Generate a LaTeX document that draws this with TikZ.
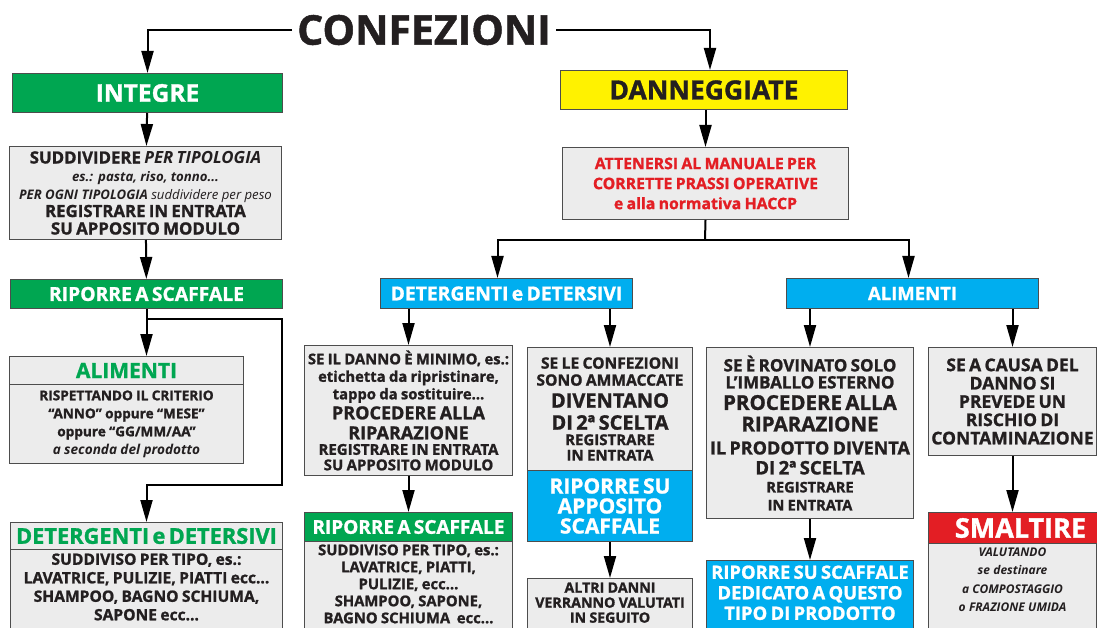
\documentclass[tikz,border=0pt]{standalone}
\usepackage{fontspec}
\setmainfont{Open Sans}[BoldFeatures={FakeBold=1.2}]
\usepackage{xcolor}
\usepackage{tikz}
\usetikzlibrary{arrows.meta, positioning}

\definecolor{verde}{HTML}{00A651}
\definecolor{azzurro}{HTML}{00AEEF}
\definecolor{giallo}{HTML}{FFF200}
\definecolor{rosso}{HTML}{E31E24}
\definecolor{grigio}{HTML}{ECECEC}
\definecolor{bordo}{HTML}{4D4D4D}
\definecolor{testo}{HTML}{231F20}

\newcommand{\fsL}{\fontsize{16.8}{17.5}\selectfont}
\newcommand{\fsH}{\fontsize{19.3}{20}\selectfont}

\tikzstyle{box}       = [rectangle, draw=bordo, line width=1pt, inner sep=0pt,
                         anchor=north west, align=center, text=testo, font=\bfseries]
\tikzstyle{graybox}   = [box, fill=grigio]
\tikzstyle{greenbox}  = [box, fill=verde, text=white]
\tikzstyle{bluebox}   = [box, fill=azzurro, text=white]
\tikzstyle{redbox}    = [box, fill=rosso, text=white]
\tikzstyle{yellowbox} = [box, fill=giallo]
\tikzstyle{arrow}     = [line width=2pt, -{Triangle[length=22pt, width=12pt]}]
\tikzstyle{line}      = [line width=2pt]
\tikzset{boxsize/.style 2 args={minimum width=#1, text width=#1, minimum height=#2}}

\begin{document}
\begin{tikzpicture}[x=1pt, y=-1pt]
    \useasboundingbox (0,0) rectangle (1097,628);
    \clip (0,0) rectangle (1097,628);
    \fill[white] (0,0) rectangle (1097,628);

    % titolo e primo livello
    \node (conf) at (424,30) [font=\bfseries\fontsize{41}{41}\selectfont, text=testo, inner sep=5pt] {CONFEZIONI};
    \node (integre) at (12,73)  [greenbox, boxsize={270pt}{39pt}]  {\fontsize{24.5}{24.5}\selectfont INTEGRE};
    \node (dann)    at (560,70) [yellowbox, boxsize={287pt}{39pt}] {\fontsize{26.5}{26.5}\selectfont DANNEGGIATE};

    % colonna INTEGRE
    \node (sudd) at (9,146) [graybox, boxsize={272pt}{93pt}]
        {{\fsL SUDDIVIDERE \textit{PER TIPOLOGIA}\par}
         {\fontsize{13.2}{18}\selectfont\itshape es.: pasta, riso, tonno...\par
          PER OGNI TIPOLOGIA {\mdseries suddividere per peso}\par}
         {\fsL REGISTRARE IN ENTRATA\par SU APPOSITO MODULO\par}};
    \node (ripL) at (10,279) [greenbox, boxsize={272pt}{29pt}] {\fsH RIPORRE A SCAFFALE};
    \node (alimL) at (9,356) [graybox, boxsize={234pt}{28pt}, text=verde] {\fontsize{21}{21}\selectfont ALIMENTI};
    \node (alimLb) at (9,384) [graybox, boxsize={234pt}{79pt}]
        {\fontsize{13.6}{18}\selectfont RISPETTANDO IL CRITERIO\par
         “ANNO” oppure “MESE”\par oppure “GG/MM/AA”\par \textit{a seconda del prodotto}\par};
    \node (deterL) at (10,522) [graybox, boxsize={272pt}{27pt}, text=verde] {\fontsize{21.8}{21.8}\selectfont DETERGENTI e DETERSIVI};
    \node (deterLb) at (10,549) [graybox, text width=272pt, inner ysep=4pt]
        {\fontsize{15.6}{18.5}\selectfont SUDDIVISO PER TIPO, es.:\par
         LAVATRICE, PULIZIE, PIATTI ecc...\par SHAMPOO, BAGNO SCHIUMA,\par SAPONE ecc...\par\mbox{}\par};

    % colonna DANNEGGIATE
    \node (manuale) at (562,147) [graybox, boxsize={286pt}{72pt}, text=rosso]
        {\fontsize{15.8}{20}\selectfont ATTENERSI AL MANUALE PER\par CORRETTE PRASSI OPERATIVE\par e alla normativa HACCP\par};
    \node (deterB) at (380,278) [bluebox, boxsize={252pt}{30pt}] {\fsH DETERGENTI e DETERSIVI};
    \node (alimB)  at (786,278) [bluebox, boxsize={252pt}{30pt}] {\fontsize{18.5}{18.5}\selectfont ALIMENTI};

    \node (dannoMin) at (304,345) [graybox, boxsize={208pt}{130pt}]
        {{\fontsize{14.8}{17.5}\selectfont SE IL DANNO È MINIMO, es.:\par etichetta da ripristinare,\par tappo da sostituire...\par}
         {\fontsize{18}{20}\selectfont PROCEDERE ALLA\par RIPARAZIONE\par}
         {\fontsize{15}{15.5}\selectfont REGISTRARE IN ENTRATA\par SU APPOSITO MODULO\par}};
    \node (ripM) at (304,512) [greenbox, boxsize={208pt}{29pt}] {\fontsize{19}{19}\selectfont RIPORRE A SCAFFALE};
    \node (ripMb) at (304,541) [graybox, text width=208pt, inner ysep=3pt]
        {\fontsize{14.8}{17}\selectfont SUDDIVISO PER TIPO, es.:\par LAVATRICE, PIATTI,\par
         PULIZIE, ecc...\par SHAMPOO, SAPONE,\par BAGNO SCHIUMA~~ecc...\par\mbox{}\par};

    \node (ammacc) at (527,347) [graybox, boxsize={165pt}{123pt}]
        {{\fontsize{15.6}{17}\selectfont SE LE CONFEZIONI\par SONO AMMACCATE\par}
         {\fontsize{20}{22}\selectfont DIVENTANO\par DI 2ª SCELTA\par}
         {\fontsize{15}{15.5}\selectfont REGISTRARE\par IN ENTRATA\par}};
    \node (ripSu) at (527,470) [bluebox, boxsize={165pt}{71pt}]
        {\fontsize{21}{20}\selectfont RIPORRE SU\par APPOSITO\par SCAFFALE\par};
    \node (altri) at (527,578) [graybox, text width=165pt, inner ysep=4pt]
        {\fontsize{14.2}{15}\selectfont ALTRI DANNI\par VERRANNO VALUTATI\par IN SEGUITO\par\mbox{}\par};

    \node (imballo) at (706,347) [graybox, boxsize={207pt}{171pt}]
        {{\fontsize{17}{17}\selectfont SE È ROVINATO SOLO\par L’IMBALLO ESTERNO\par}
         {\fontsize{20.5}{21.5}\selectfont PROCEDERE ALLA\par RIPARAZIONE\par}
         {\fontsize{18}{23}\selectfont IL PRODOTTO DIVENTA\par}
         {\fontsize{18.6}{20}\selectfont DI 2ª SCELTA\par}
         {\fontsize{14.6}{18}\selectfont REGISTRARE\par IN ENTRATA\par}};
    \node (ripDed) at (706,560) [bluebox, text width=207pt, inner ysep=5pt]
        {\fontsize{18.4}{20.5}\selectfont RIPORRE SU SCAFFALE\par DEDICATO A QUESTO\par TIPO DI PRODOTTO\par\mbox{}\par};

    \node (contam) at (928,347) [graybox, boxsize={168pt}{108pt}]
        {\fontsize{17.5}{18.3}\selectfont SE A CAUSA DEL\par DANNO SI\par PREVEDE UN\par RISCHIO DI\par CONTAMINAZIONE\par};
    \node (smalt) at (928,512) [redbox, boxsize={184pt}{31pt}] {\fontsize{27}{27}\selectfont SMALTIRE};
    \node (smaltb) at (928,543) [graybox, text width=168pt, inner ysep=4pt]
        {\fontsize{12}{18.5}\selectfont\itshape VALUTANDO\par se destinare\par a COMPOSTAGGIO\par o FRAZIONE UMIDA\par\mbox{}\par};

    % collegamenti
    \coordinate (split)  at (146,319);
    \coordinate (gomito) at (282,485);
    \coordinate (hub)    at (705,240);

    \draw [arrow] (conf.west) -| (integre.north);
    \draw [arrow] (conf.east) -| ([xshift=6pt]dann.north);
    \draw [arrow] (integre) -- (sudd);
    \draw [arrow] (sudd) -- (ripL);
    \draw [arrow] (ripL.south) -- (ripL.south |- alimL.north);
    \draw [arrow] (split) -| (gomito) -| (deterL.north);

    \draw [arrow] (dann.south -| manuale.north) -- (manuale.north);
    \draw [line]  (manuale.south) -- (hub);
    \draw [arrow] (hub) -| ([xshift=-9pt]deterB.north);
    \draw [arrow] (hub) -| ([xshift=-4pt]alimB.north);
    \draw [arrow] (deterB.south -| dannoMin.north) -- (dannoMin.north);
    \draw [arrow] (deterB.south -| ammacc.north) -- (ammacc.north);
    \draw [arrow] (alimB.south -| imballo.north) -- (imballo.north);
    \draw [arrow] (alimB.south -| contam.north) -- (contam.north);
    \draw [arrow] (dannoMin) -- (ripM);
    \draw [arrow] (ripSu) -- (altri);
    \draw [arrow] (imballo) -- (ripDed);
    \draw [arrow] (contam) -- (smalt.north -| contam.south);
\end{tikzpicture}
\end{document}
